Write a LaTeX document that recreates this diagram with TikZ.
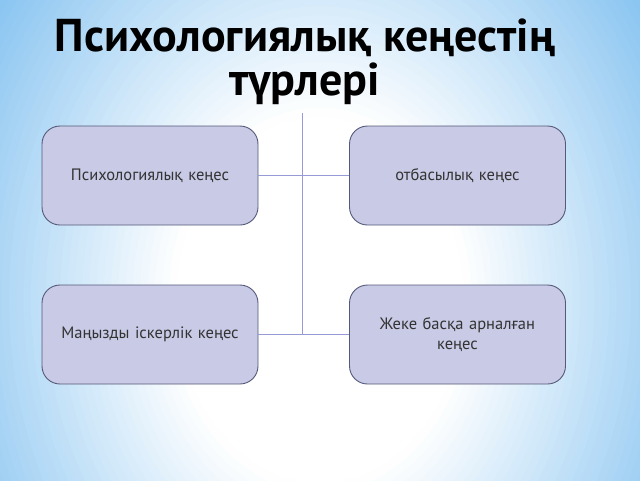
\documentclass[tikz,border=0pt]{standalone}
\usepackage{fontspec}
\setmainfont{PT Sans}
\usetikzlibrary{positioning}
\definecolor{skyC}{RGB}{132,194,240}
\definecolor{boxfill}{RGB}{200,202,230}
\definecolor{boxline}{RGB}{85,90,120}
\definecolor{linkcol}{RGB}{150,155,215}

\begin{document}
\begin{tikzpicture}[x=1pt,y=-1pt,bx/.style={draw=boxline, line width=0.9pt, fill=boxfill, rounded corners=18pt, minimum width=216pt, minimum height=99pt, text width=195pt, align=center, font=\fontsize{16.5}{20}\selectfont, text=black!80},ln/.style={draw=linkcol, line width=0.8pt},ttl/.style={font=\fontsize{46}{44}\selectfont\bfseries, align=center}]
	      \useasboundingbox (0,0) rectangle (640,480);
	      % sky background, drawn as layered ellipses
	      \begin{scope}
	        \clip (0,0) rectangle (640,480);
	        \fill[skyC] (0,0) rectangle (640,480);
	        \foreach \i in {0,...,40}{
	          \pgfmathsetmacro{\s}{1.25-\i*0.022}
	          \pgfmathsetmacro{\p}{max(0,min(100,(\s-0.45)/0.8*100))}
	          \fill[skyC!\p!white] (320,300) ellipse [x radius=330*\s, y radius=420*\s];
	        }
	      \end{scope}
	      \node[ttl] (title) at (305,62) {Психологиялық кеңестің\\түрлері};
	      \node[bx] (tl) at (150,175.5) {Психологиялық кеңес};
	      \node[bx] (tr) at (457.5,175.5) {отбасылық кеңес};
	      \node[bx] (bl) at (150,334.5) {Маңызды іскерлік кеңес};
	      \node[bx] (br) at (457.5,334.5) {Жеке басқа арналған\\кеңес};
	      \coordinate (spine) at (302,113);
	      \draw[ln] (spine) -- (spine |- bl.east);
	      \draw[ln] (tl.east) -- (tr.west);
	      \draw[ln] (bl.east) -- (br.west);
	    \end{tikzpicture}
\end{document}
